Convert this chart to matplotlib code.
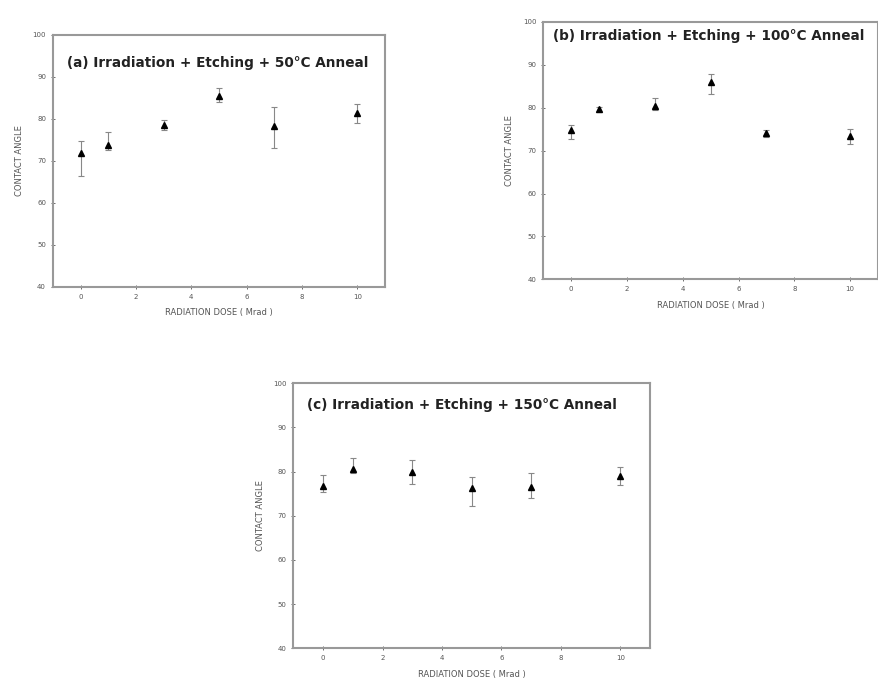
import matplotlib
matplotlib.use("Agg")
import matplotlib.pyplot as plt

dose = [0, 1, 3, 5, 7, 10]

angle_a = [71.9, 73.7, 78.6, 85.5, 78.2, 81.3]
err_lo_a = [5.5, 1.0, 1.2, 1.4, 5.1, 2.3]
err_hi_a = [2.8, 3.1, 1.2, 1.9, 4.7, 2.2]

angle_b = [74.9, 79.6, 80.3, 86.1, 74.0, 73.3]
err_lo_b = [2.1, 0.6, 0.9, 2.9, 0.8, 1.7]
err_hi_b = [1.0, 0.6, 2.0, 1.7, 0.8, 1.8]

angle_c = [76.8, 80.5, 80.0, 76.2, 76.6, 79.0]
err_lo_c = [1.3, 0.8, 2.9, 4.0, 2.6, 2.0]
err_hi_c = [2.4, 2.7, 2.6, 2.5, 3.2, 2.1]

titles = ["(a) Irradiation + Etching + 50\u00b0C Anneal",
          "(b) Irradiation + Etching + 100\u00b0C Anneal",
          "(c) Irradiation + Etching + 150\u00b0C Anneal"]
x_ticks = [0, 2, 4, 6, 8, 10]
y_ticks = [40, 50, 60, 70, 80, 90, 100]
x_label = "RADIATION DOSE ( Mrad )"
y_label = "CONTACT ANGLE"

fig = plt.figure(figsize=(8.79, 6.83), dpi=100)
rects = [[0.0603, 0.580, 0.3777, 0.369],
         [0.618, 0.591, 0.381, 0.377],
         [0.3337, 0.0508, 0.406, 0.388]]
title_pos = [(0.042, 0.89), (0.03, 0.945), (0.037, 0.918)]
data = [(angle_a, err_lo_a, err_hi_a), (angle_b, err_lo_b, err_hi_b), (angle_c, err_lo_c, err_hi_c)]

for rect, (vals, lo, hi), title, tp in zip(rects, data, titles, title_pos):
    ax = fig.add_axes(rect)
    ax.errorbar(dose, vals, yerr=[lo, hi], fmt='none', ecolor='#888888',
                elinewidth=0.8, capsize=2.5, capthick=0.8)
    ax.plot(dose, vals, linestyle='none', marker='^', markersize=5,
            color='black')
    ax.set_xlim(-1, 11)
    ax.set_ylim(40, 100)
    ax.set_xticks(x_ticks)
    ax.set_yticks(y_ticks)
    ax.tick_params(labelsize=5, colors='#555555', length=3, width=0.6,
                   direction='inout')
    for s in ax.spines.values():
        s.set_color('#999999')
        s.set_linewidth(1.5)
    ax.set_xlabel(x_label, fontsize=6, color='#555555', labelpad=6)
    ax.set_ylabel(y_label, fontsize=6, color='#555555', labelpad=6)
    ax.text(tp[0], tp[1], title, transform=ax.transAxes, ha='left', va='center',
            fontsize=9.8, fontweight='bold', color='#222222')

fig.savefig("out.png", dpi=100)
